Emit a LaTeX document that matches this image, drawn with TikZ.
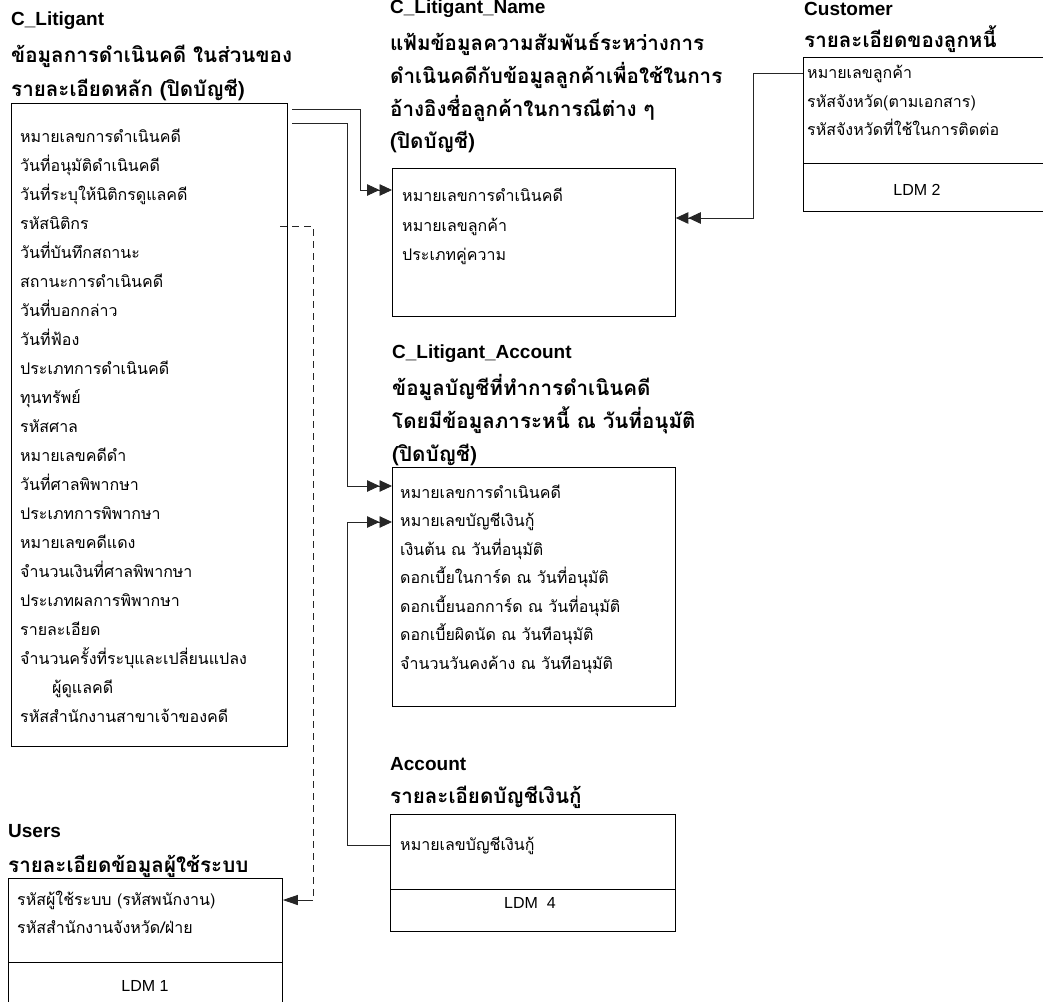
\documentclass[tikz,border=0pt]{standalone}
\usepackage{fontspec}
\setmainfont{Liberation Sans}
\newfontfamily\thai[Script=Thai]{Loma}
\usetikzlibrary{arrows.meta}
\tikzset{
  hdr/.style={font=\bfseries\fontsize{19}{21}\selectfont, anchor=base west, inner sep=0pt},
  thh/.style={font=\thai\bfseries\fontsize{20.6}{24}\selectfont, anchor=base west, inner sep=0pt},
  item/.style={font=\thai\fontsize{16}{18}\selectfont, anchor=base west, inner sep=0pt},
  ldm/.style={font=\fontsize{16}{18}\selectfont, inner sep=0pt},
  tbox/.style={draw, line width=0.8pt, anchor=north west, inner sep=0pt},
  conn/.style={draw=black!85, line width=0.9pt},
  dbl/.style={-{Triangle[length=12.5pt,width=11.5pt,sep=0pt]Triangle[length=12.5pt,width=11.5pt,sep=0pt]}},
  sgl/.style={-{Triangle[length=15pt,width=10pt]}},
}
\begin{document}
\begin{tikzpicture}[x=1pt,y=-1pt]
\useasboundingbox (0,0) rectangle (1043,1001);

% ---------- C_Litigant ----------
\node[hdr] (litH) at (11,25) {C\_Litigant};
\node[thh] (litT1) at (11,62) {ข้อมูลการดำเนินคดี ในส่วนของ};
\node[thh] (litT2) at (11,96) {รายละเอียดหลัก (ปิดบัญชี)};
\node[tbox, minimum width=276pt, minimum height=643pt] (lit) at (11,103) {};
\foreach \t [count=\i from 0] in {
  หมายเลขการดำเนินคดี,
  วันที่อนุมัติดำเนินคดี,
  วันที่ระบุให้นิติกรดูแลคดี,
  รหัสนิติกร,
  วันที่บันทึกสถานะ,
  สถานะการดำเนินคดี,
  วันที่บอกกล่าว,
  วันที่ฟ้อง,
  ประเภทการดำเนินคดี,
  ทุนทรัพย์,
  รหัสศาล,
  หมายเลขคดีดำ,
  วันที่ศาลพิพากษา,
  ประเภทการพิพากษา,
  หมายเลขคดีแดง,
  จำนวนเงินที่ศาลพิพากษา,
  ประเภทผลการพิพากษา,
  รายละเอียด,
  จำนวนครั้งที่ระบุและเปลี่ยนแปลง}
  {\node[item] (lit\i) at (20,{142+29*\i}) {\t};}
\node[item] (lit19) at (52,693) {ผู้ดูแลคดี};
\node[item] (lit20) at (20,722) {รหัสสำนักงานสาขาเจ้าของคดี};

% ---------- C_Litigant_Name ----------
\node[hdr] (nameH) at (390,13) {C\_Litigant\_Name};
\node[thh] (nameT1) at (390,50) {แฟ้มข้อมูลความสัมพันธ์ระหว่างการ};
\node[thh] (nameT2) at (390,83) {ดำเนินคดีกับข้อมูลลูกค้าเพื่อใช้ในการ};
\node[thh] (nameT3) at (390,116) {อ้างอิงชื่อลูกค้าในการณีต่าง ๆ};
\node[thh] (nameT4) at (390,148) {(ปิดบัญชี)};
\node[tbox, minimum width=283pt, minimum height=148pt] (name) at (392,168) {};
\node[item] (name0) at (402,201) {หมายเลขการดำเนินคดี};
\node[item] (name1) at (402,231) {หมายเลขลูกค้า};
\node[item] (name2) at (402,260) {ประเภทคู่ความ};

% ---------- Customer ----------
\node[hdr] (custH) at (804,15) {Customer};
\node[thh] (custT) at (804,47) {รายละเอียดของลูกหนี้};
\node[tbox, minimum width=250pt, minimum height=154pt] (cust) at (803,57) {};
\draw[line width=0.8pt] (cust.west |- 0,163) -- (cust.east |- 0,163);
\node[item] (cust0) at (807,78) {หมายเลขลูกค้า};
\node[item] (cust1) at (807,107) {รหัสจังหวัด(ตามเอกสาร)};
\node[item] (cust2) at (807,135) {รหัสจังหวัดที่ใช้ในการติดต่อ};
\node[ldm] (custL) at (917,190) {LDM 2};

% ---------- C_Litigant_Account ----------
\node[hdr] (laccH) at (392,358) {C\_Litigant\_Account};
\node[thh] (laccT1) at (392,395) {ข้อมูลบัญชีที่ทำการดำเนินคดี};
\node[thh] (laccT2) at (392,428) {โดยมีข้อมูลภาระหนี้ ณ วันที่อนุมัติ};
\node[thh] (laccT3) at (392,461) {(ปิดบัญชี)};
\node[tbox, minimum width=283pt, minimum height=239pt] (lacc) at (392,467) {};
\foreach \t [count=\i from 0] in {
  หมายเลขการดำเนินคดี,
  หมายเลขบัญชีเงินกู้,
  เงินต้น ณ วันที่อนุมัติ,
  ดอกเบี้ยในการ์ด ณ วันที่อนุมัติ,
  ดอกเบี้ยนอกการ์ด ณ วันที่อนุมัติ,
  ดอกเบี้ยผิดนัด ณ วันทีอนุมัติ,
  จำนวนวันคงค้าง ณ วันทีอนุมัติ}
  {\node[item] (lacc\i) at (400,{498+28.5*\i}) {\t};}

% ---------- Account ----------
\node[hdr] (accH) at (390,770) {Account};
\node[thh] (accT) at (390,803) {รายละเอียดบัญชีเงินกู้};
\node[tbox, minimum width=285pt, minimum height=117pt] (acc) at (390,814) {};
\draw[line width=0.8pt] (acc.west |- 0,889) -- (acc.east |- 0,889);
\node[item] (acc0) at (400,850) {หมายเลขบัญชีเงินกู้};
\node[ldm] (accL) at (530,903) {LDM\ \ 4};

% ---------- Users ----------
\node[hdr] (usrH) at (8,837) {Users};
\node[thh] (usrT) at (8,872) {รายละเอียดข้อมูลผู้ใช้ระบบ};
\node[tbox, minimum width=274pt, minimum height=140pt] (usr) at (8,878) {};
\draw[line width=0.8pt] (usr.west |- 0,962) -- (usr.east |- 0,962);
\node[item] (usr0) at (17,905) {รหัสผู้ใช้ระบบ (รหัสพนักงาน)};
\node[item] (usr1) at (17,933) {รหัสสำนักงานจังหวัด/ฝ่าย};
\node[ldm] (usrL) at (145,986) {LDM 1};

% ---------- connectors ----------
\coordinate (s1) at (292,109);
\coordinate (k1) at (360,190);
\draw[conn, dbl] (s1) -| (k1) -- (name.west |- k1);

\coordinate (s2) at (292,123);
\coordinate (k2) at (347,486);
\draw[conn, dbl] (s2) -| (k2) -- (lacc.west |- k2);

\coordinate (s3) at (280,226);
\coordinate (k3) at (313,900);
\draw[conn, dash pattern=on 7pt off 5pt] (s3) -| (k3);
\draw[conn, sgl] (k3) -- (usr.east |- k3);

\coordinate (k4) at (347,522);
\draw[conn, dbl] (acc.west |- 0,845) -| (k4) -- (lacc.west |- k4);

\coordinate (k5) at (753,218);
\draw[conn, dbl] (cust.west |- 0,73) -| (k5) -- (name.east |- k5);
\end{tikzpicture}
\end{document}
